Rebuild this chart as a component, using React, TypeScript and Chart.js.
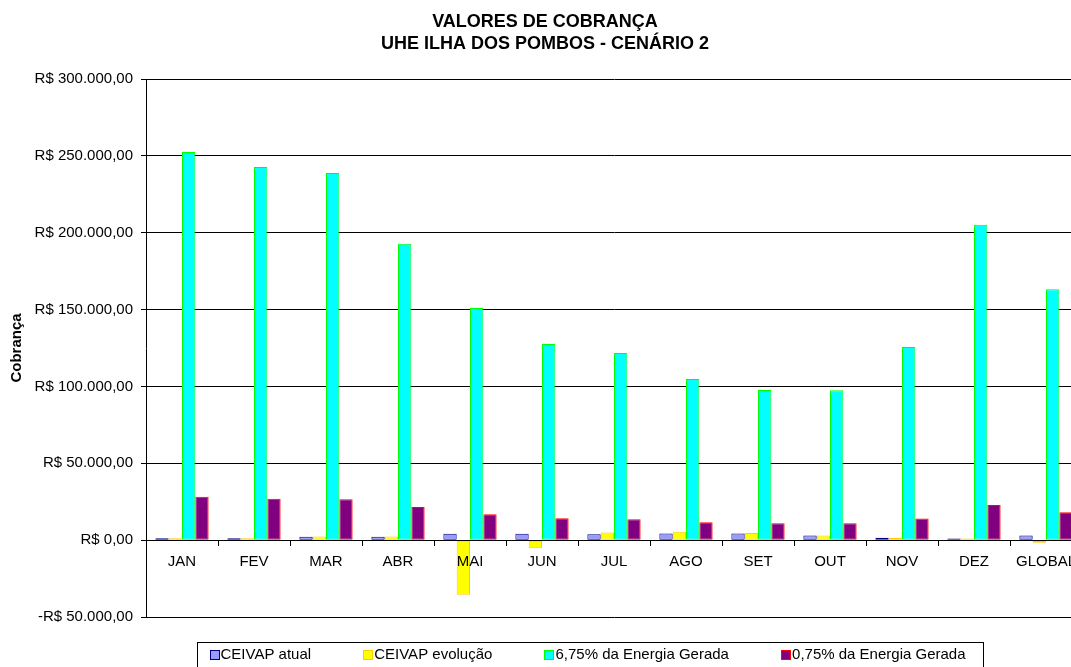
import React, { useEffect, useRef } from "react";
import { Chart, registerables } from "chart.js";

Chart.register(...registerables);

const categories = ["JAN", "FEV", "MAR", "ABR", "MAI", "JUN", "JUL", "AGO", "SET", "OUT", "NOV", "DEZ", "GLOBAL"];
const ceivapAtual = [1300, 1300, 2200, 2200, 4200, 4200, 3900, 4400, 4300, 3100, 1600, 1100, 3000];
const ceivapEvolucao = [1300, 1300, 2400, 2300, -35600, -5200, 5000, 5500, 4600, 3100, 1500, 1000, -1700];
const energia675 = [252500, 242700, 238800, 192800, 151000, 127600, 121700, 104800, 97600, 97500, 125600, 205100, 163200];
const energia075 = [28200, 27000, 26600, 21500, 16800, 14200, 13600, 11700, 11000, 11000, 14000, 22900, 18200];
const seriesNames = ["CEIVAP atual", "CEIVAP evolução", "6,75% da Energia Gerada", "0,75% da Energia Gerada"];
const titleLines = ["VALORES DE COBRANÇA", "UHE ILHA DOS POMBOS - CENÁRIO 2"];
const yTitle = "Cobrança";

const FONT = "'Liberation Sans', Arial, sans-serif";

function fmt(v: number): string {
  const neg = v < 0;
  const s = Math.round(Math.abs(v)).toString().replace(/\B(?=(\d{3})+(?!\d))/g, ".");
  return (neg ? "-" : "") + "R$ " + s + ",00";
}

const decorPlugin = {
  id: "decor",
  afterDraw(chart: any) {
    const ctx = chart.ctx;
    ctx.save();
    // title
    ctx.fillStyle = "#000";
    ctx.font = `bold 18px ${FONT}`;
    ctx.textAlign = "center";
    ctx.textBaseline = "middle";
    ctx.fillText(titleLines[0], 545, 22.5);
    ctx.fillText(titleLines[1], 545, 44.5);
    // legend
    const boxL = 197.5, boxT = 642.5, boxR = 983.5, boxB = 680;
    ctx.strokeStyle = "#000";
    ctx.lineWidth = 1;
    ctx.strokeRect(boxL, boxT, boxR - boxL, boxB - boxT);
    ctx.font = `15px ${FONT}`;
    ctx.textAlign = "left";
    const ds = chart.data.datasets;
    const widths = ds.map((d: any) => ctx.measureText(d.label).width);
    const sq = 10, sqGap = 1;
    const total = widths.reduce((a: number, b: number) => a + b, 0) + ds.length * (sq + sqGap);
    const padL = 12, padR = 18;
    const gap = (boxR - boxL - padL - padR - total) / (ds.length - 1);
    let x = boxL + padL;
    const cy = 655;
    ds.forEach((d: any, i: number) => {
      ctx.fillStyle = d.backgroundColor;
      ctx.fillRect(Math.round(x) + 0.5, cy - 4.5, sq - 1, sq - 1);
      ctx.strokeStyle = d.borderColor;
      ctx.lineWidth = 1;
      ctx.strokeRect(Math.round(x) + 0.5, cy - 4.5, sq - 1, sq - 1);
      ctx.fillStyle = "#000";
      ctx.fillText(d.label, x + sq + sqGap, cy);
      x += sq + sqGap + widths[i] + gap;
    });
    ctx.restore();
  },
};

export default function App() {
  const ref = useRef<HTMLCanvasElement | null>(null);
  useEffect(() => {
    if (!ref.current) return;
    const mk = (label: string, data: number[], bg: string, border: string) => ({
      label,
      data,
      backgroundColor: bg,
      borderColor: border,
      borderWidth: 1,
      borderSkipped: false,
      categoryPercentage: 0.74,
      barPercentage: 1,
    });
    const chart = new Chart(ref.current, {
      type: "bar",
      data: {
        labels: categories,
        datasets: [
          mk(seriesNames[0], ceivapAtual, "#9999FF", "#000080"),
          mk(seriesNames[1], ceivapEvolucao, "#FFFF00", "#FFCC00"),
          mk(seriesNames[2], energia675, "#00FFFF", "#00FF00"),
          mk(seriesNames[3], energia075, "#800080", "#FF0000"),
        ],
      },
      options: {
        responsive: false,
        animation: false,
        devicePixelRatio: 1,
        layout: { padding: { top: 79, bottom: 50, left: 0, right: 8 } },
        plugins: {
          legend: { display: false },
          title: { display: false },
          tooltip: { enabled: false },
        },
        scales: {
          x: {
            position: { y: 0 } as any,
            grid: { drawOnChartArea: false, drawTicks: true, tickLength: 5, offset: true, color: "#000", z: 1 },
            border: { color: "#000", width: 1, z: 1 },
            ticks: { color: "#000", font: { family: FONT, size: 15 }, padding: 8, maxRotation: 0, autoSkip: false, z: 1 },
          },
          y: {
            min: -50000,
            max: 300000,
            afterFit: (s: any) => { s.width = 146; },
            grid: { color: "#000", lineWidth: 1, tickLength: 5, tickColor: "#000" },
            border: { color: "#000", width: 1 },
            ticks: {
              stepSize: 50000,
              color: "#000",
              font: { family: FONT, size: 15 },
              padding: 8,
              callback: (v: any) => fmt(Number(v)),
            },
            title: {
              display: true,
              text: yTitle,
              color: "#000",
              font: { family: FONT, size: 15, weight: "bold" },
              padding: { top: 8, bottom: 0 },
            },
          },
        },
      },
      plugins: [decorPlugin],
    });
    return () => chart.destroy();
  }, []);
  return (
    <div style={{ position: "fixed", left: 0, top: 0, width: 1071, height: 667, overflow: "hidden", background: "#fff" }}>
      <canvas ref={ref} width={1090} height={667} style={{ display: "block" }} />
    </div>
  );
}
